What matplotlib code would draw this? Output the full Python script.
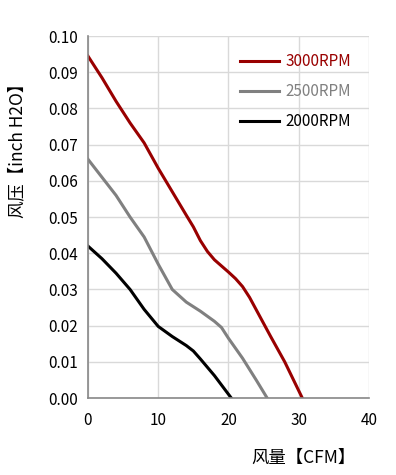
import numpy as np
import matplotlib.pyplot as plt

plt.rcParams['font.family'] = ['Noto Sans CJK SC', 'DejaVu Sans']

# fan curves
x_3000 = [0, 2, 4, 6, 8, 10, 12, 14, 15, 16, 17, 18, 20, 21, 22, 23, 24, 26, 28, 29, 30.5]
p_3000 = [0.0945, 0.0885, 0.082, 0.076, 0.0705, 0.0635, 0.057, 0.0505, 0.0473, 0.0435,
          0.0405, 0.0382, 0.0348, 0.033, 0.0308, 0.0278, 0.0242, 0.017, 0.010, 0.006, 0.0]

x_2500 = [0, 2, 4, 6, 8, 10, 12, 14, 16, 18, 19, 20, 22, 24, 25.5]
p_2500 = [0.066, 0.061, 0.056, 0.050, 0.0445, 0.037, 0.030, 0.0265, 0.024, 0.0212,
          0.0195, 0.0165, 0.011, 0.0048, 0.0]

x_2000 = [0, 2, 4, 6, 8, 10, 12, 14, 15, 16, 18, 20.4]
p_2000 = [0.042, 0.0385, 0.0345, 0.030, 0.0245, 0.0198, 0.017, 0.0145, 0.013, 0.0108,
          0.0062, 0.0]

labels = ['3000RPM', '2500RPM', '2000RPM']
colors = ['#990000', '#808080', '#000000']

fig = plt.figure(figsize=(3.96, 4.75), dpi=100)
ax = fig.add_axes([0.222, 0.162, 0.710, 0.762])

ax.plot(x_3000, p_3000, color=colors[0], lw=2.2, label=labels[0])
ax.plot(x_2500, p_2500, color=colors[1], lw=2.2, label=labels[1])
ax.plot(x_2000, p_2000, color=colors[2], lw=2.2, label=labels[2])

ax.set_xlim(0, 40)
ax.set_ylim(0, 0.10)
ax.set_xticks([0, 10, 20, 30, 40])
ax.set_yticks(np.arange(0, 0.101, 0.01))
ax.set_yticklabels(['%.2f' % v for v in np.arange(0, 0.101, 0.01)])
ax.grid(True, color='#d9d9d9', lw=1)
ax.set_axisbelow(True)
ax.tick_params(length=0, labelsize=11)
ax.tick_params(axis='y', pad=7)
ax.tick_params(axis='x', pad=10)
for s in ['top', 'right']:
    ax.spines[s].set_visible(False)
for s in ['left', 'bottom']:
    ax.spines[s].set_color('#888888')
    ax.spines[s].set_linewidth(1.2)

ax.set_xlabel('风量【CFM】', fontsize=12.5)
ax.xaxis.set_label_coords(0.765, -0.14)
ax.set_ylabel('风压【inch H2O】', fontsize=12.5)
ax.yaxis.set_label_coords(-0.22, 0.696)

ax.legend(loc='upper right', bbox_to_anchor=(0.985, 0.99), frameon=False,
          fontsize=11, handlelength=2.5, handletextpad=0.45, labelspacing=0.85,
          labelcolor='linecolor')

plt.savefig('out.png', dpi=100)
